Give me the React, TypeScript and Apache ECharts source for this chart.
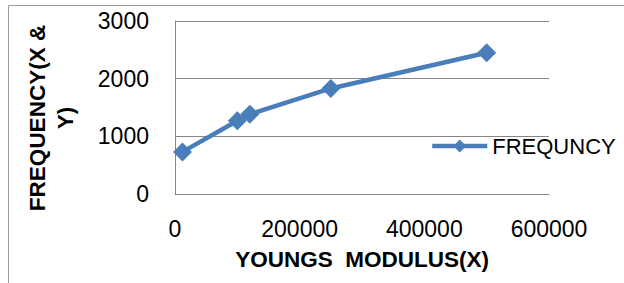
import React, { useEffect, useRef } from "react";
import * as echarts from "echarts";

const seriesName = "FREQUNCY";
const youngsModulus = [12000, 100000, 120000, 250000, 500000];
const frequency = [730, 1270, 1385, 1830, 2450];
const xTitle = "YOUNGS  MODULUS(X)";
const yTitle = "FREQUENCY(X &\nY)";

const FONT = "'Liberation Sans', Arial, sans-serif";
const BLUE = "#4a7ebb";
const GRID = "#868686";

export default function App() {
  const ref = useRef<HTMLDivElement>(null);
  useEffect(() => {
    if (!ref.current) return;
    const chart = echarts.init(ref.current, null, { renderer: "svg" });
    chart.setOption({
      animation: false,
      backgroundColor: "#ffffff",
      grid: { left: 175, top: 21, right: 75, bottom: 89, containLabel: false },
      xAxis: {
        type: "value",
        min: 0,
        max: 600000,
        interval: 200000,
        name: xTitle,
        nameLocation: "middle",
        nameGap: 54,
        nameTextStyle: { fontFamily: FONT, fontSize: 22.5, fontWeight: "bold", color: "#000" },
        axisLine: { show: true, lineStyle: { color: GRID, width: 1 } },
        axisTick: { show: false },
        splitLine: { show: false },
        axisLabel: {
          margin: 23,
          fontFamily: FONT,
          fontSize: 23,
          color: "#000",
          formatter: (v: number) => String(v),
        },
      },
      yAxis: {
        type: "value",
        min: 0,
        max: 3000,
        interval: 1000,
        axisLine: { show: true, lineStyle: { color: GRID, width: 1 } },
        axisTick: { show: false },
        splitLine: { show: true, lineStyle: { color: GRID, width: 1 } },
        axisLabel: {
          margin: 26,
          fontFamily: FONT,
          fontSize: 23,
          color: "#000",
          formatter: (v: number) => String(v),
        },
      },
      legend: {
        show: true,
        left: 430,
        top: 135,
        padding: 0,
        itemWidth: 55,
        itemHeight: 16,
        itemGap: 5,
        lineStyle: { width: 4.5, color: BLUE },
        textStyle: { fontFamily: FONT, fontSize: 22, color: "#000" },
        data: [seriesName],
      },
      graphic: [
        {
          type: "rect",
          silent: true,
          shape: { x: 8.5, y: 5.5, width: 700, height: 400 },
          style: { fill: "none", stroke: "#9a9a9a", lineWidth: 1 },
        },
        {
          type: "text",
          x: 51,
          y: 118,
          rotation: Math.PI / 2,
          style: {
            text: yTitle,
            align: "center",
            verticalAlign: "middle",
            lineHeight: 28,
            font: `bold 22.5px ${FONT}`,
            fill: "#000",
          },
        },
      ],
      series: [
        {
          name: seriesName,
          type: "line",
          data: youngsModulus.map((x, i) => [x, frequency[i]]),
          symbol: "diamond",
          symbolSize: 19,
          itemStyle: { color: BLUE },
          lineStyle: { color: BLUE, width: 4.5 },
        },
      ],
    });
    return () => chart.dispose();
  }, []);
  return (
    <div
      ref={ref}
      style={{ position: "fixed", left: 0, top: 0, width: 624, height: 283 }}
    />
  );
}
